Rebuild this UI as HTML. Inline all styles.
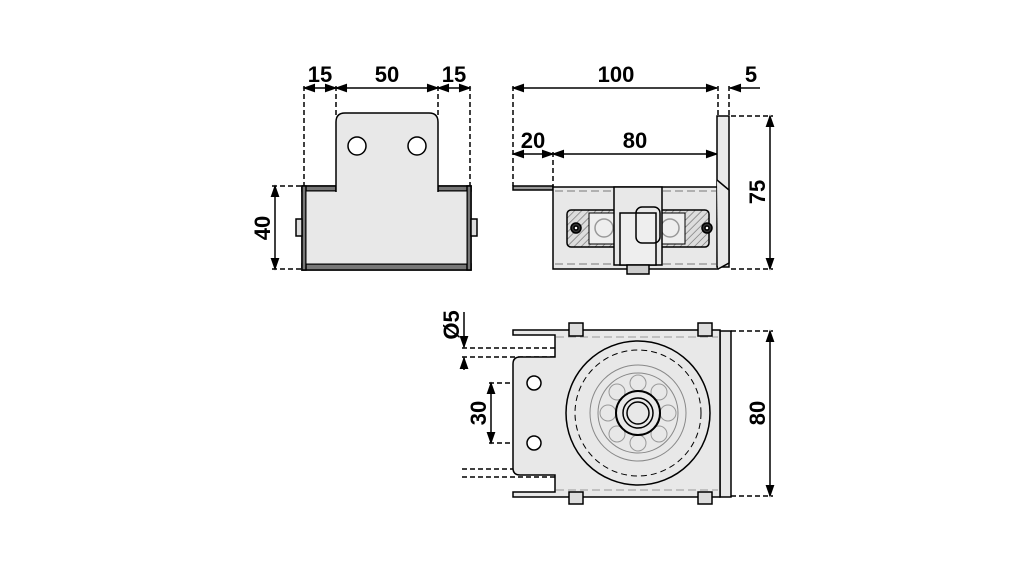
<!DOCTYPE html>
<html><head><style>body{margin:0;background:#fff}svg{display:block}</style></head><body>
<svg width="1021" height="567" viewBox="0 0 1021 567" xmlns="http://www.w3.org/2000/svg" font-family="'Liberation Sans',sans-serif">
<defs>
<marker id="a" viewBox="0 0 10 10" refX="10" refY="5" markerWidth="9" markerHeight="7" orient="auto-start-reverse"><path d="M0,1.5 L10,5 L0,8.5 Z" fill="#000" stroke="#000" stroke-width="1"/></marker>
<pattern id="h" width="5" height="5" patternUnits="userSpaceOnUse" patternTransform="rotate(45)"><rect width="5" height="5" fill="#ddd"/><line x1="0" y1="0" x2="0" y2="5" stroke="#666" stroke-width="1.2"/></pattern>
</defs>
<g fill="none" stroke="#000" stroke-width="1.5" stroke-dasharray="5,3">
<line x1="304" y1="86" x2="304" y2="186"/><line x1="336" y1="86" x2="336" y2="116"/>
<line x1="438" y1="86" x2="438" y2="116"/><line x1="470" y1="86" x2="470" y2="186"/>
<line x1="272" y1="186" x2="302" y2="186"/><line x1="272" y1="269" x2="302" y2="269"/>
<line x1="513" y1="86" x2="513" y2="186"/><line x1="553" y1="152" x2="553" y2="186"/>
<line x1="718" y1="86" x2="718" y2="115"/><line x1="729" y1="86" x2="729" y2="115"/>
<line x1="731" y1="116" x2="773" y2="116"/><line x1="731" y1="269" x2="773" y2="269"/>
<line x1="462" y1="348" x2="556" y2="348"/><line x1="462" y1="357" x2="556" y2="357"/>
<line x1="462" y1="469" x2="556" y2="469"/><line x1="462" y1="477" x2="556" y2="477"/>
<line x1="489" y1="383" x2="534" y2="383"/><line x1="489" y1="443" x2="534" y2="443"/>
<line x1="731" y1="331" x2="773" y2="331"/><line x1="731" y1="496" x2="773" y2="496"/>
</g>
<g stroke="#000" stroke-width="1.5" fill="none">
<line x1="304" y1="88" x2="336" y2="88" marker-start="url(#a)" marker-end="url(#a)"/>
<line x1="336" y1="88" x2="438" y2="88" marker-start="url(#a)" marker-end="url(#a)"/>
<line x1="438" y1="88" x2="470" y2="88" marker-start="url(#a)" marker-end="url(#a)"/>
<line x1="275" y1="186" x2="275" y2="269" marker-start="url(#a)" marker-end="url(#a)"/>
<line x1="513" y1="88" x2="717" y2="88" marker-start="url(#a)" marker-end="url(#a)"/>
<line x1="760" y1="88" x2="730" y2="88" marker-end="url(#a)"/>
<line x1="513" y1="154" x2="553" y2="154" marker-start="url(#a)" marker-end="url(#a)"/>
<line x1="553" y1="154" x2="717" y2="154" marker-start="url(#a)" marker-end="url(#a)"/>
<line x1="770" y1="116" x2="770" y2="269" marker-start="url(#a)" marker-end="url(#a)"/>
<line x1="464" y1="312" x2="464" y2="347" marker-end="url(#a)"/>
<line x1="464" y1="370" x2="464" y2="358" marker-end="url(#a)"/>
<line x1="491" y1="383" x2="491" y2="443" marker-start="url(#a)" marker-end="url(#a)"/>
<line x1="770" y1="331" x2="770" y2="496" marker-start="url(#a)" marker-end="url(#a)"/>
</g>
<g font-size="22" font-weight="bold" text-anchor="middle" fill="#000">
<text x="320" y="82">15</text><text x="387" y="82">50</text><text x="454" y="82">15</text>
<text x="616" y="82">100</text><text x="751" y="82">5</text>
<text x="533" y="148">20</text><text x="635" y="148">80</text>
<text transform="translate(270,228) rotate(-90)">40</text>
<text transform="translate(765,192) rotate(-90)">75</text>
<text transform="translate(459,325) rotate(-90)">Ø5</text>
<text transform="translate(486,413) rotate(-90)">30</text>
<text transform="translate(765,413) rotate(-90)">80</text>
</g>
<!-- view 1 -->
<g stroke="#000" stroke-width="1.5">
<rect x="302" y="186" width="169" height="84" fill="#e8e8e8"/>
<rect x="302" y="186" width="34" height="5" fill="#777"/><rect x="438" y="186" width="33" height="5" fill="#777"/>
<rect x="302" y="264" width="169" height="6" fill="#777"/>
<rect x="302" y="186" width="4" height="84" fill="#777"/><rect x="467" y="186" width="4" height="84" fill="#777"/>
<path d="M336,191 H306 V264 H467 V191 H438" fill="#e8e8e8" stroke-width="1"/>
<path d="M336,192 V122 Q336,113 345,113 H429 Q438,113 438,122 V192" fill="#e8e8e8"/>
<rect x="337" y="186" width="100" height="8" fill="#e8e8e8" stroke="none"/>
<circle cx="357" cy="146" r="9" fill="#fff"/><circle cx="417" cy="146" r="9" fill="#fff"/>
<rect x="296" y="219" width="6" height="17" fill="#ddd"/><rect x="471" y="219" width="6" height="17" fill="#ddd"/>
</g>
<!-- view 2 -->
<g stroke="#000" stroke-width="1.5">
<rect x="513" y="186" width="40" height="4" fill="#999"/>
<rect x="553" y="187" width="165" height="82" fill="#e8e8e8"/>
<rect x="717" y="116" width="12" height="151" fill="#e8e8e8"/>
<path d="M717,180 L729,190 V263 L718,269" fill="#e8e8e8"/>
<line x1="555" y1="191" x2="716" y2="191" stroke-dasharray="8,4" stroke-width="1" stroke="#777"/>
<line x1="555" y1="264" x2="716" y2="264" stroke-dasharray="8,4" stroke-width="1" stroke="#777"/>
<rect x="567" y="210" width="142" height="37" rx="4" fill="url(#h)"/>
<rect x="589" y="213" width="30" height="31" fill="#eee" stroke-width="1"/>
<rect x="655" y="213" width="30" height="31" fill="#eee" stroke-width="1"/>
<circle cx="604" cy="228" r="9" fill="none" stroke="#999"/><circle cx="670" cy="228" r="9" fill="none" stroke="#999"/>
<rect x="614" y="187" width="48" height="78" fill="#e8e8e8"/>
<rect x="620" y="213" width="36" height="52" fill="#eee"/>
<rect x="636" y="207" width="24" height="36" rx="6" fill="none"/>
<rect x="627" y="265" width="22" height="9" fill="#ccc"/>
<circle cx="576" cy="228" r="5" fill="#333"/><circle cx="576" cy="228" r="2" fill="#fff"/>
<circle cx="707" cy="228" r="5" fill="#333"/><circle cx="707" cy="228" r="2" fill="#fff"/>
</g>
<!-- view 3 -->
<g stroke="#000" stroke-width="1.5">
<rect x="720" y="331" width="11" height="166" fill="#e8e8e8"/>
<path d="M513,330 H720 V497 H513 V492 H555 V475 H520 Q513,475 513,468 V364 Q513,357 520,357 H555 V335 H513 Z" fill="#e8e8e8"/>
<g stroke="#999" stroke-width="1" stroke-dasharray="8,4" fill="none">
<line x1="556" y1="337" x2="718" y2="337"/><line x1="556" y1="490" x2="718" y2="490"/>
</g>
<circle cx="534" cy="383" r="7" fill="#fff"/><circle cx="534" cy="443" r="7" fill="#fff"/>
<circle cx="638" cy="413" r="72" fill="#e8e8e8"/>
<circle cx="638" cy="413" r="63" fill="none" stroke-dasharray="6,4" stroke-width="1"/>
<circle cx="638" cy="413" r="48" fill="none" stroke="#888" stroke-width="1"/>
<circle cx="638" cy="413" r="40" fill="none" stroke="#888" stroke-width="1"/>
<g fill="none" stroke="#999" stroke-width="1">
<circle cx="638" cy="383" r="8"/><circle cx="659" cy="392" r="8"/><circle cx="668" cy="413" r="8"/><circle cx="659" cy="434" r="8"/>
<circle cx="638" cy="443" r="8"/><circle cx="617" cy="434" r="8"/><circle cx="608" cy="413" r="8"/><circle cx="617" cy="392" r="8"/>
</g>
<circle cx="638" cy="413" r="22" fill="#e8e8e8" stroke-width="2"/>
<circle cx="638" cy="413" r="15" fill="none"/>
<circle cx="638" cy="413" r="11" fill="none"/>
<rect x="569" y="323" width="14" height="13" fill="#ddd"/><rect x="698" y="323" width="14" height="13" fill="#ddd"/>
<rect x="569" y="492" width="14" height="12" fill="#ddd"/><rect x="698" y="492" width="14" height="12" fill="#ddd"/>
</g>
</svg>
</body></html>
